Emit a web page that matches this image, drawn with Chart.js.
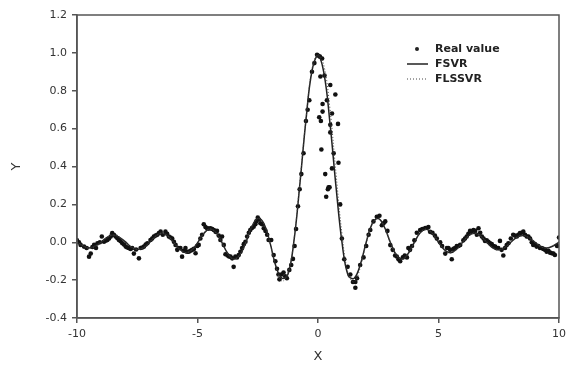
<!DOCTYPE html>
<html>
<head>
<meta charset="utf-8">
<script src="https://cdn.jsdelivr.net/npm/chart.js@4.4.1/dist/chart.umd.min.js"></script>
<style>
  html, body { margin: 0; padding: 0; background: #fff; }
  #wrap { width: 571px; height: 365px; }
</style>
</head>
<body>
<div id="wrap"><canvas id="chart" width="571" height="365"></canvas></div>
<script>
// Real value samples
const realX = [
  -10.00, -9.92, -9.85, -9.71, -9.60, -9.50, -9.43, -9.36, -9.29, -9.21, -9.15, -9.05, -8.97, -8.88, -8.81,
  -8.74, -8.67, -8.60, -8.54, -8.47, -8.40, -8.33, -8.26, -8.19, -8.12, -8.05, -7.98, -7.91, -7.85, -7.78,
  -7.71, -7.64, -7.55, -7.43, -7.36, -7.29, -7.22, -7.15, -7.08, -6.95, -6.88, -6.81, -6.74, -6.67, -6.60,
  -6.53, -6.44, -6.33, -6.26, -6.19, -6.12, -6.05, -5.98, -5.91, -5.84, -5.78, -5.71, -5.64, -5.57, -5.50,
  -5.43, -5.36, -5.29, -5.22, -5.15, -5.08, -5.01, -4.95, -4.88, -4.81, -4.74, -4.67, -4.60, -4.53, -4.46,
  -4.39, -4.32, -4.25, -4.19, -4.12, -4.05, -3.98, -3.91, -3.84, -3.75, -3.69, -3.63, -3.56, -3.50, -3.43,
  -3.36, -3.29, -3.22, -3.15, -3.08, -3.01, -2.94, -2.87, -2.81, -2.74, -2.67, -2.60, -2.56, -2.50, -2.45,
  -2.39, -2.32, -2.25, -2.18, -2.11, -2.05, -1.94, -1.84, -1.77, -1.70, -1.64, -1.60, -1.52, -1.43, -1.36,
  -1.29, -1.19, -1.11, -1.04, -0.97, -0.91, -0.83, -0.76, -0.69, -0.60, -0.50, -0.43, -0.36, -0.25, -0.15,
  -0.04, 0.02, 0.05, 0.08, 0.10, 0.12, 0.14, 0.17, 0.19, 0.19, 0.27, 0.30, 0.34, 0.37, 0.41,
  0.44, 0.48, 0.51, 0.51, 0.51, 0.58, 0.58, 0.65, 0.72, 0.83, 0.85, 0.92, 0.99, 1.09, 1.23,
  1.34, 1.45, 1.55, 1.55, 1.62, 1.75, 1.89, 2.00, 2.10, 2.17, 2.30, 2.44, 2.55, 2.65, 2.72,
  2.79, 2.88, 3.00, 3.10, 3.20, 3.27, 3.34, 3.41, 3.52, 3.60, 3.69, 3.75, 3.82, 3.90, 4.00,
  4.10, 4.24, 4.33, 4.45, 4.58, 4.65, 4.75, 4.85, 4.93, 5.07, 5.15, 5.28, 5.35, 5.41, 5.48,
  5.55, 5.62, 5.69, 5.76, 5.83, 5.90, 6.03, 6.10, 6.17, 6.24, 6.31, 6.38, 6.45, 6.52, 6.59,
  6.66, 6.73, 6.80, 6.87, 6.93, 7.00, 7.07, 7.14, 7.21, 7.28, 7.35, 7.42, 7.48, 7.55, 7.62,
  7.69, 7.76, 7.83, 7.90, 8.00, 8.10, 8.17, 8.25, 8.31, 8.38, 8.45, 8.52, 8.59, 8.66, 8.73,
  8.80, 8.87, 8.93, 9.00, 9.07, 9.14, 9.21, 9.28, 9.35, 9.42, 9.49, 9.56, 9.63, 9.70, 9.77,
  9.83, 9.92, 10.00
];
const realY = [
  0.010, 0.000, -0.014, -0.023, -0.030, -0.076, -0.060, -0.025, -0.014, -0.030, -0.005, 0.000, 0.030, 0.003, 0.008,
  0.012, 0.020, 0.030, 0.048, 0.040, 0.030, 0.022, 0.012, 0.005, -0.005, -0.012, -0.023, -0.028, -0.030, -0.035,
  -0.030, -0.060, -0.038, -0.085, -0.030, -0.028, -0.023, -0.012, -0.005, 0.012, 0.020, 0.030, 0.035, 0.040, 0.048,
  0.056, 0.040, 0.056, 0.045, 0.030, 0.025, 0.020, 0.003, -0.014, -0.040, -0.030, -0.030, -0.076, -0.045, -0.030,
  -0.050, -0.050, -0.045, -0.040, -0.035, -0.058, -0.020, -0.014, 0.020, 0.040, 0.095, 0.080, 0.074, 0.072, 0.074,
  0.070, 0.065, 0.055, 0.060, 0.035, 0.012, 0.030, -0.014, -0.063, -0.070, -0.075, -0.076, -0.085, -0.130, -0.076,
  -0.080, -0.067, -0.050, -0.030, -0.010, 0.003, 0.030, 0.050, 0.065, 0.075, 0.082, 0.095, 0.110, 0.130, 0.120,
  0.100, 0.095, 0.074, 0.060, 0.040, 0.012, 0.012, -0.067, -0.100, -0.140, -0.170, -0.196, -0.170, -0.160, -0.180,
  -0.190, -0.146, -0.120, -0.088, -0.020, 0.070, 0.190, 0.280, 0.360, 0.470, 0.640, 0.700, 0.750, 0.900, 0.946,
  0.990, 0.985, 0.660, 0.980, 0.875, 0.640, 0.490, 0.970, 0.730, 0.690, 0.880, 0.360, 0.240, 0.750, 0.280,
  0.290, 0.290, 0.830, 0.620, 0.580, 0.680, 0.390, 0.470, 0.780, 0.625, 0.420, 0.200, 0.020, -0.090, -0.130,
  -0.170, -0.210, -0.210, -0.240, -0.190, -0.120, -0.080, -0.020, 0.040, 0.065, 0.110, 0.135, 0.140, 0.090, 0.100,
  0.110, 0.060, -0.015, -0.040, -0.070, -0.075, -0.090, -0.100, -0.080, -0.070, -0.080, -0.030, -0.040, -0.020, 0.010,
  0.050, 0.065, 0.070, 0.075, 0.080, 0.055, 0.050, 0.035, 0.020, 0.000, -0.020, -0.060, -0.030, -0.030, -0.040,
  -0.090, -0.035, -0.030, -0.020, -0.020, -0.014, 0.010, 0.020, 0.030, 0.045, 0.060, 0.055, 0.065, 0.060, 0.040,
  0.074, 0.050, 0.030, 0.020, 0.007, 0.010, 0.003, -0.005, -0.010, -0.020, -0.023, -0.030, -0.030, 0.007, -0.040,
  -0.070, -0.030, -0.015, -0.005, 0.020, 0.040, 0.035, 0.030, 0.040, 0.048, 0.050, 0.056, 0.040, 0.030, 0.030,
  0.020, 0.000, -0.014, -0.010, -0.023, -0.020, -0.030, -0.030, -0.035, -0.040, -0.050, -0.045, -0.055, -0.058, -0.060,
  -0.067, -0.020, 0.025
];

// Fitted curves, sampled every 0.25
const curveX = [
  -10, -9.75, -9.5, -9.25, -9, -8.75, -8.5, -8.25, -8, -7.75, -7.5, -7.25, -7, -6.75, -6.5, -6.25, -6,
  -5.75, -5.5, -5.25, -5, -4.75, -4.5, -4.25, -4, -3.75, -3.5, -3.25, -3, -2.75, -2.5, -2.25, -2,
  -1.75, -1.5, -1.25, -1, -0.75, -0.5, -0.25, 0, 0.25, 0.5, 0.75, 1, 1.25, 1.5, 1.75, 2,
  2.25, 2.5, 2.75, 3, 3.25, 3.5, 3.75, 4, 4.25, 4.5, 4.75, 5, 5.25, 5.5, 5.75, 6,
  6.25, 6.5, 6.75, 7, 7.25, 7.5, 7.75, 8, 8.25, 8.5, 8.75, 9, 9.25, 9.5, 9.75, 10
];
const fsvrY = [
  0.000, -0.020, -0.030, -0.020, 0.000, 0.025, 0.038, 0.027, 0.003, -0.025, -0.038, -0.030, -0.002, 0.030, 0.048, 0.036, 0.002,
  -0.036, -0.055, -0.043, -0.003, 0.045, 0.070, 0.054, 0.002, -0.058, -0.088, -0.068, -0.002, 0.080, 0.125, 0.100, 0.002,
  -0.125, -0.190, -0.170, 0.005, 0.310, 0.645, 0.905, 0.985, 0.890, 0.625, 0.290, -0.005, -0.175, -0.190, -0.120, 0.000,
  0.098, 0.125, 0.082, 0.000, -0.067, -0.088, -0.058, 0.000, 0.052, 0.068, 0.046, 0.000, -0.041, -0.055, -0.037, 0.000,
  0.035, 0.047, 0.032, 0.000, -0.029, -0.040, -0.028, 0.000, 0.026, 0.036, 0.025, 0.000, -0.023, -0.030, -0.020, 0.000
];
const flssvrY = [
  0.002, -0.018, -0.032, -0.022, 0.000, 0.026, 0.038, 0.028, 0.002, -0.026, -0.038, -0.029, -0.001, 0.031, 0.048, 0.035, 0.001,
  -0.037, -0.055, -0.042, -0.002, 0.046, 0.070, 0.053, 0.001, -0.060, -0.090, -0.067, 0.000, 0.082, 0.126, 0.098, 0.000,
  -0.130, -0.205, -0.165, 0.010, 0.320, 0.650, 0.915, 0.990, 0.930, 0.700, 0.360, 0.040, -0.165, -0.210, -0.135, -0.005,
  0.095, 0.126, 0.084, 0.002, -0.066, -0.090, -0.060, -0.001, 0.053, 0.069, 0.047, 0.001, -0.042, -0.056, -0.038, 0.000,
  0.034, 0.048, 0.033, 0.001, -0.030, -0.041, -0.027, 0.001, 0.027, 0.037, 0.024, -0.001, -0.024, -0.031, -0.019, 0.002
];

const xTicks = [-10, -5, 0, 5, 10];
const yTicks = [-0.4, -0.2, 0.0, 0.2, 0.4, 0.6, 0.8, 1.0, 1.2];

const seriesNames = ['Real value', 'FSVR', 'FLSSVR'];

const axisColor = '#555';
const tickFont = { family: 'DejaVu Sans', size: 11 };

const toPoints = (xs, ys) => xs.map((x, i) => ({ x, y: ys[i] }));

// frame on top/right + in-plot legend
const framePlugin = {
  id: 'frame',
  afterDatasetsDraw(chart) {
    const { ctx, chartArea: a } = chart;
    ctx.save();
    ctx.strokeStyle = axisColor;
    ctx.lineWidth = 1.5;
    ctx.strokeRect(a.left, a.top, a.right - a.left, a.bottom - a.top);

    // legend
    const lx = a.left + 330;
    const ty = a.top + 34;
    const gap = 15;
    ctx.font = 'bold 11px "DejaVu Sans"';
    ctx.fillStyle = '#222';
    ctx.textBaseline = 'middle';
    chart.data.datasets.forEach((ds, i) => {
      const y = ty + i * gap;
      if (i === 0) {
        ctx.beginPath();
        ctx.arc(lx + 10, y, 2, 0, Math.PI * 2);
        ctx.fill();
      } else {
        ctx.beginPath();
        ctx.strokeStyle = ds.borderColor;
        ctx.lineWidth = ds.borderWidth;
        ctx.setLineDash(ds.borderDash || []);
        ctx.moveTo(lx, y);
        ctx.lineTo(lx + 21, y);
        ctx.stroke();
        ctx.setLineDash([]);
      }
      ctx.fillText(ds.label, lx + 28, y);
    });
    ctx.restore();
  }
};

new Chart(document.getElementById('chart'), {
  type: 'scatter',
  data: {
    datasets: [
      {
        label: seriesNames[0],
        data: toPoints(realX, realY),
        showLine: false,
        pointRadius: 2.3,
        pointBackgroundColor: '#111',
        pointBorderWidth: 0,
        order: 3
      },
      {
        label: seriesNames[1],
        data: toPoints(curveX, fsvrY),
        showLine: true,
        pointRadius: 0,
        borderColor: '#222',
        borderWidth: 1.5,
        tension: 0.4,
        order: 2
      },
      {
        label: seriesNames[2],
        data: toPoints(curveX, flssvrY),
        showLine: true,
        pointRadius: 0,
        borderColor: '#444',
        borderWidth: 1,
        borderDash: [1, 2],
        tension: 0.4,
        order: 1
      }
    ]
  },
  options: {
    responsive: false,
    animation: false,
    layout: { padding: { top: 15, right: 12, bottom: 0, left: 0 } },
    plugins: {
      legend: { display: false },
      tooltip: { enabled: false }
    },
    scales: {
      x: {
        type: 'linear',
        min: xTicks[0],
        max: xTicks[xTicks.length - 1],
        afterBuildTicks: (s) => { s.ticks = xTicks.map(v => ({ value: v })); },
        afterFit: (s) => { s.height = 47; },
        ticks: { font: tickFont, color: '#333', padding: 5, maxRotation: 0 },
        grid: { drawOnChartArea: false, drawTicks: true, tickLength: 5, color: axisColor, lineWidth: 1.5 },
        border: { display: true, color: axisColor, width: 1.5 },
        title: { display: true, text: 'X', font: { family: 'DejaVu Sans', size: 13 }, color: '#333', padding: { top: 0, bottom: 1 } }
      },
      y: {
        type: 'linear',
        min: yTicks[0],
        max: yTicks[yTicks.length - 1],
        afterBuildTicks: (s) => { s.ticks = yTicks.map(v => ({ value: v })); },
        afterFit: (s) => { s.width = 77; },
        ticks: { font: tickFont, color: '#333', padding: 5, callback: (v) => v.toFixed(1) },
        grid: { drawOnChartArea: false, drawTicks: true, tickLength: 5, color: axisColor, lineWidth: 1.5 },
        border: { display: true, color: axisColor, width: 1.5 },
        title: { display: true, text: 'Y', font: { family: 'DejaVu Sans', size: 13 }, color: '#333', padding: { top: 9, bottom: 0 } }
      }
    }
  },
  plugins: [framePlugin]
});
</script>
</body>
</html>
